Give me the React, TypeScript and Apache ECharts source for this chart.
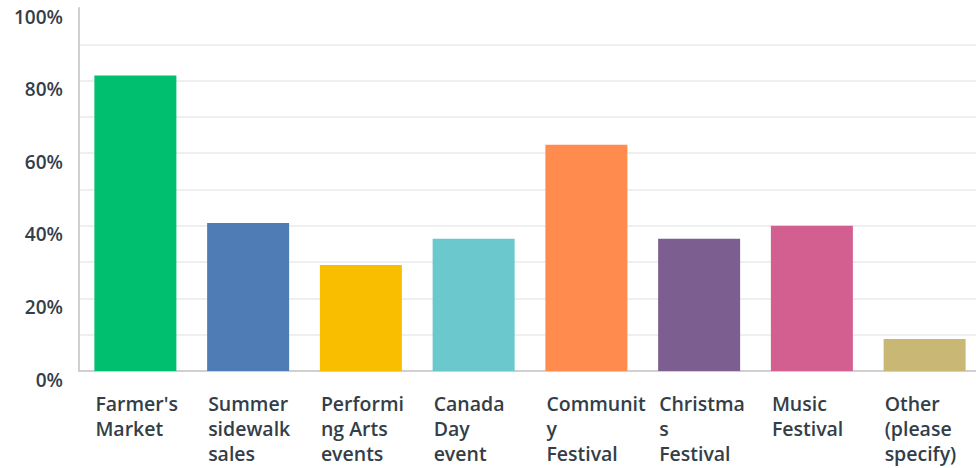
import React, { useEffect, useRef } from "react";
import * as echarts from "echarts";

const categories = [
  "Farmer's Market",
  "Summer sidewalk sales",
  "Performing Arts events",
  "Canada Day event",
  "Community Festival",
  "Christmas Festival",
  "Music Festival",
  "Other (please specify)",
];
const values = [81.4, 40.8, 29.2, 36.4, 62.3, 36.4, 40.0, 8.8];
const colors = ["#00BF6F", "#507CB6", "#F9BE00", "#6BC8CD", "#FF8B4F", "#7D5E90", "#D25F90", "#C9B776"];
const yTicks = [0, 20, 40, 60, 80, 100];

function wrap(s: string, n: number): string[] {
  const lines: string[] = [];
  let cur = "";
  for (let w of s.split(" ")) {
    while (w.length > n) {
      if (cur) { lines.push(cur); cur = ""; }
      lines.push(w.slice(0, n));
      w = w.slice(n);
    }
    if (!w) continue;
    if (!cur) cur = w;
    else if ((cur + " " + w).length <= n) cur = cur + " " + w;
    else { lines.push(cur); cur = w; }
  }
  if (cur) lines.push(cur);
  return lines;
}

export default function App() {
  const ref = useRef<HTMLDivElement>(null);
  useEffect(() => {
    document.body.style.margin = "0";
    const chart = echarts.init(ref.current!, undefined, { renderer: "svg" });
    chart.setOption({
      animation: false,
      grid: { left: 79, top: 8, bottom: 97, right: 0, containLabel: false },
      xAxis: {
        type: "category",
        data: categories,
        axisLine: { lineStyle: { color: "#d0d0d0", width: 2 } },
        axisTick: { show: false },
        axisLabel: {
          interval: 0,
          margin: 20,
          color: "#333e48",
          fontFamily: "Open Sans",
          fontWeight: 600,
          fontSize: 19.5,
          lineHeight: 25,
          formatter: (v: string) => wrap(v, 8).map((l) => "{a|" + l + "}").join("\n"),
          rich: {
            a: {
              width: 80,
              align: "left",
              color: "#333e48",
              fontFamily: "Open Sans",
              fontWeight: 600,
              fontSize: 19.5,
              lineHeight: 25,
            },
          },
        },
      },
      yAxis: {
        type: "value",
        min: 0,
        max: 100,
        interval: 10,
        axisLine: { show: true, lineStyle: { color: "#d0d0d0", width: 2 } },
        axisTick: { show: false },
        splitLine: { show: true, showMaxLine: false, lineStyle: { color: "#efefef", width: 2 } },
        axisLabel: {
          margin: 16,
          color: "#333e48",
          fontFamily: "Open Sans",
          fontWeight: 600,
          fontSize: 19,
          verticalAlign: "top",
          lineHeight: 17,
          formatter: (v: number) => (yTicks.indexOf(v) >= 0 ? v + "%" : ""),
        },
      },
      series: [
        {
          type: "bar",
          barWidth: 82,
          data: values.map((v, i) => ({ value: v, itemStyle: { color: colors[i] } })),
        },
      ],
    });
    return () => chart.dispose();
  }, []);
  return (
    <div style={{ width: 976, height: 468, overflow: "hidden" }}>
      <div ref={ref} style={{ width: 981, height: 468 }} />
    </div>
  );
}
